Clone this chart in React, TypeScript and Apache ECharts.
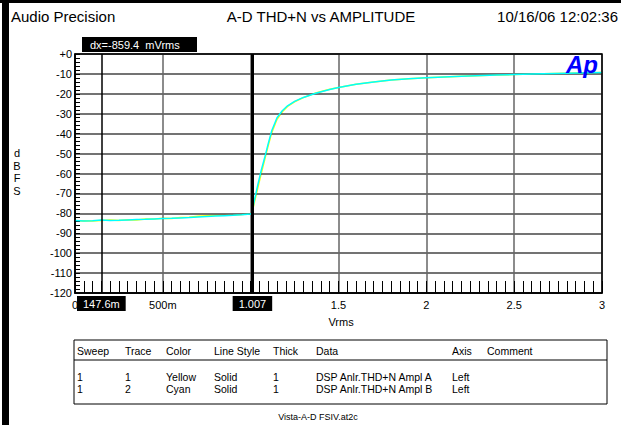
import React, { useEffect, useRef } from "react";
import * as echarts from "echarts";

const FONT = "'Liberation Sans', Arial, sans-serif";

const titleLeft = "Audio Precision";
const titleCenter = "A-D THD+N vs AMPLITUDE";
const titleRight = "10/16/06 12:02:36";
const yName = "d\nB\nF\nS";
const xName = "Vrms";
const footer = "Vista-A-D FSIV.at2c";
const dxText = "dx=-859.4  mVrms";

const volts = [
  0, 0.05, 0.1, 0.15, 0.2, 0.25, 0.3, 0.35, 0.4, 0.45, 0.5, 0.55, 0.6, 0.65, 0.7, 0.75, 0.8, 0.85,
  0.9, 0.95, 1.0, 1.007, 1.02, 1.04, 1.06, 1.08, 1.1, 1.12, 1.15, 1.18, 1.21, 1.25, 1.3, 1.37, 1.45,
  1.5, 1.6, 1.7, 1.8, 1.9, 2.0, 2.2, 2.4, 2.5, 2.6, 2.8, 3.0,
];
const yellowA = [
  -84.0, -83.7, -83.9, -83.6, -83.4, -83.6, -83.2, -83.3, -82.9, -82.9, -82.5, -82.6, -82.1, -82.0,
  -81.5, -81.2, -81.0, -80.9, -80.8, -80.6, -80.2, -80.0, -75.0, -67.5, -60.0, -53.0, -46.0, -39.5,
  -32.8, -29.0, -26.3, -24.0, -21.9, -19.6, -17.7, -16.8, -15.2, -14.0, -13.1, -12.4, -11.9, -11.2,
  -10.6, -10.3, -10.1, -9.7, -9.3,
];
const cyanB = [
  -83.6, -83.9, -83.7, -83.4, -83.6, -83.5, -83.3, -83.1, -83.0, -82.8, -82.6, -82.5, -82.3, -82.1,
  -81.8, -81.6, -81.4, -81.2, -81.0, -80.7, -80.3, -80.0, -74.0, -66.0, -58.5, -52.0, -45.0, -38.5,
  -32.0, -28.5, -26.0, -23.8, -21.8, -19.7, -17.8, -16.8, -15.2, -14.0, -13.1, -12.4, -11.9, -11.2,
  -10.6, -10.3, -10.1, -9.7, -9.3,
];

const cursorValues = [0.1476, 1.007];
const cursorLabels = ["147.6m", "1.007"];

const tableHeaders = ["Sweep", "Trace", "Color", "Line Style", "Thick", "Data", "Axis", "Comment"];
const tableRows = [
  ["1", "1", "Yellow", "Solid", "1", "DSP Anlr.THD+N Ampl A", "Left", ""],
  ["1", "2", "Cyan", "Solid", "1", "DSP Anlr.THD+N Ampl B", "Left", ""],
];
const colX = [77, 125, 166, 214, 273, 316, 452, 487];

function xLabel(v: number): string {
  if (v === 0) return "0";
  if (v === 1) return ""; // hidden behind the 1.007 cursor box
  if (v < 1) return Math.round(v * 1000) + "m";
  return String(v);
}

const GRID = { left: 75, top: 54, width: 527, height: 239 };

export default function App() {
  const ref = useRef<HTMLDivElement>(null);
  useEffect(() => {
    document.body.style.margin = "0";
    const chart = echarts.init(ref.current!, null, { renderer: "svg" });
    const txt = (text: string, x: number, y: number, size: number, extra: any = {}) => ({
      type: "text",
      x,
      y,
      z: 10,
      style: { text, fontSize: size, fontFamily: FONT, fill: "#000", ...extra },
    });
    const graphics: any[] = [
      { type: "rect", shape: { x: 2, y: 0, width: 7, height: 425 }, style: { fill: "#000" }, z: 10 },
      { type: "rect", shape: { x: 0, y: 0, width: 621, height: 3 }, style: { fill: "#000" }, z: 10 },
      {
        type: "rect",
        shape: { x: GRID.left, y: GRID.top, width: GRID.width, height: GRID.height },
        style: { fill: "none", stroke: "#000", lineWidth: 1.5 },
        z: 5,
        silent: true,
      },
      txt(titleLeft, 11, 9, 15),
      txt(titleCenter, 321, 9, 15, { textAlign: "center" }),
      txt(titleRight, 618, 9, 15, { textAlign: "right" }),
      { type: "rect", shape: { x: 82, y: 37, width: 115, height: 15 }, style: { fill: "#000" }, z: 10 },
      txt(dxText, 90, 39.5, 11, { fill: "#fff" }),
      txt(yName, 17, 147, 11, { textAlign: "center", lineHeight: 12.5 }),
      txt(xName, 341, 316, 11, { textAlign: "center" }),
      txt("Ap", 566, 52, 24, { fill: "#0000ff", fontWeight: "bold", fontStyle: "italic" }),
      {
        type: "rect",
        shape: { x: 74, y: 340, width: 533, height: 64 },
        style: { fill: "none", stroke: "#000", lineWidth: 1 },
        z: 10,
      },
      {
        type: "line",
        shape: { x1: 74, y1: 360, x2: 607, y2: 360 },
        style: { stroke: "#000", lineWidth: 1 },
        z: 10,
      },
      txt(footer, 318, 412, 9, { textAlign: "center" }),
    ];
    tableHeaders.forEach((h, i) => graphics.push(txt(h, colX[i], 345.5, 10.5)));
    tableRows.forEach((row, r) =>
      row.forEach((c, i) => {
        if (c) graphics.push(txt(c, colX[i], 371 + r * 12, 10.5));
      })
    );

    chart.setOption({
      animation: false,
      backgroundColor: "#fff",
      textStyle: { fontFamily: FONT },
      grid: {
        left: GRID.left,
        top: GRID.top,
        width: GRID.width,
        height: GRID.height,
        show: false,
        containLabel: false,
      },
      xAxis: {
        type: "value",
        min: 0,
        max: 3,
        interval: 0.5,
        z: 4,
        axisLine: { show: true, onZero: false, lineStyle: { color: "#000", width: 1.5 } },
        axisTick: { show: true, inside: true, length: 12, lineStyle: { color: "#000", width: 1 } },
        minorTick: { show: true, splitNumber: 10, length: 12, lineStyle: { color: "#000", width: 1 } },
        splitLine: { show: true, lineStyle: { color: "#666", width: 1.5 } },
        axisLabel: {
          formatter: (v: number) => xLabel(v),
          color: "#000",
          fontSize: 11,
          fontFamily: FONT,
          margin: 6,
        },
      },
      yAxis: {
        type: "value",
        min: -120,
        max: 0,
        interval: 10,
        z: 4,
        axisLine: { show: true, onZero: false, lineStyle: { color: "#000", width: 1.5 } },
        axisTick: { show: true, inside: true, length: 5, lineStyle: { color: "#000", width: 1 } },
        minorTick: { show: true, splitNumber: 5, length: 5, lineStyle: { color: "#000", width: 1 } },
        splitLine: { show: true, lineStyle: { color: "#444", width: 1.5 } },
        axisLabel: {
          formatter: (v: number) => (v === 0 ? "+0" : String(v)),
          color: "#000",
          fontSize: 11,
          fontFamily: FONT,
          margin: 3,
        },
      },
      series: [
        {
          type: "line",
          name: "A",
          data: volts.map((v, i) => [v, yellowA[i]]),
          showSymbol: false,
          lineStyle: { color: "#ffff00", width: 1.5 },
          z: 3,
        },
        {
          type: "line",
          name: "B",
          data: volts.map((v, i) => [v, cyanB[i]]),
          showSymbol: false,
          lineStyle: { color: "#00ffff", width: 1.5 },
          z: 4,
          markLine: {
            silent: true,
            symbol: ["none", "none"],
            animation: false,
            data: cursorValues.map((v, i) => ({
              xAxis: v,
              lineStyle: { color: "#000", type: "solid", width: i === 0 ? 1.5 : 3 },
              label: {
                show: true,
                position: "start",
                formatter: cursorLabels[i],
                backgroundColor: "#000",
                color: "#fff",
                fontSize: 11,
                fontFamily: FONT,
                padding: [2, 6, 2, 6],
                distance: 3,
              },
            })),
          },
        },
      ],
      graphic: graphics,
    });
    return () => chart.dispose();
  }, []);
  return <div ref={ref} style={{ width: 621, height: 425 }} />;
}
